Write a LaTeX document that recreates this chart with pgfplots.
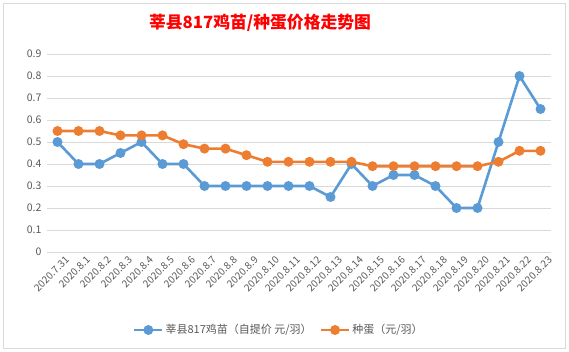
\documentclass[border=0pt]{standalone}
\usepackage{fontspec}
\setmainfont{Noto Sans CJK SC}
\usepackage{pgfplots}
\pgfplotsset{compat=1.18}
\definecolor{sblue}{HTML}{5B9BD5}
\definecolor{sorange}{HTML}{ED7D31}
\definecolor{tgray}{HTML}{595959}
\definecolor{ggray}{HTML}{D9D9D9}
\begin{document}
\begin{tikzpicture}[x=1pt,y=1pt]
\path[use as bounding box] (0,0) rectangle (569,352);
\fill[white] (0,0) rectangle (569,352);
\draw[ggray, line width=0.8pt] (3,4) rectangle (565,349);
\node[text=red, font=\fontsize{16.8}{19}\selectfont\bfseries] at (260,329) {莘县817鸡苗/种蛋价格走势图};
\begin{axis}[at={(47pt,100pt)}, anchor=south west, scale only axis,
  width=504pt, height=198pt,
  xmin=-0.5, xmax=23.5, ymin=0, ymax=0.9,
  ytick={0,0.1,0.2,0.3,0.4,0.5,0.6,0.7,0.8,0.9},
  yticklabels={0,0.1,0.2,0.3,0.4,0.5,0.6,0.7,0.8,0.9},
  xtick={0,...,23},
  xticklabels={2020.7.31,2020.8.1,2020.8.2,2020.8.3,2020.8.4,2020.8.5,2020.8.6,2020.8.7,2020.8.8,2020.8.9,2020.8.10,2020.8.11,2020.8.12,2020.8.13,2020.8.14,2020.8.15,2020.8.16,2020.8.17,2020.8.18,2020.8.19,2020.8.20,2020.8.21,2020.8.22,2020.8.23},
  axis line style={draw=none},
  major tick style={draw=none},
  ymajorgrids, major grid style={ggray, line width=0.8pt},
  /pgf/number format/assume math mode=true,
  yticklabel style={text=tgray, font=\fontsize{10.5}{12}\selectfont, xshift=-2pt},
  xticklabel style={text=tgray, font=\fontsize{10}{12}\selectfont, rotate=45, anchor=north east, xshift=6pt, yshift=-4pt},
  legend style={at={(0.46,-0.394)}, anchor=center, draw=none, fill=none,
    font=\fontsize{11}{13}\selectfont, text=tgray, legend columns=2,
    /tikz/every even column/.append style={column sep=6pt}},
  legend image code/.code={\draw[#1] (0pt,0pt) -- (28pt,0pt); \draw[#1] plot coordinates {(14pt,0pt)};},
]
\addplot[sblue, line width=2.6pt, mark=*, mark size=3.6pt] coordinates {
(0,0.5)(1,0.4)(2,0.4)(3,0.45)(4,0.5)(5,0.4)(6,0.4)(7,0.3)(8,0.3)(9,0.3)(10,0.3)(11,0.3)(12,0.3)(13,0.25)(14,0.4)(15,0.3)(16,0.35)(17,0.35)(18,0.3)(19,0.2)(20,0.2)(21,0.5)(22,0.8)(23,0.65)};
\addlegendentry{莘县817鸡苗（自提价 元/羽）}
\addplot[sorange, line width=2.6pt, mark=*, mark size=3.6pt] coordinates {
(0,0.55)(1,0.55)(2,0.55)(3,0.53)(4,0.53)(5,0.53)(6,0.49)(7,0.47)(8,0.47)(9,0.44)(10,0.41)(11,0.41)(12,0.41)(13,0.41)(14,0.41)(15,0.39)(16,0.39)(17,0.39)(18,0.39)(19,0.39)(20,0.39)(21,0.41)(22,0.46)(23,0.46)};
\addlegendentry{种蛋（元/羽）}
\end{axis}
\end{tikzpicture}
\end{document}
